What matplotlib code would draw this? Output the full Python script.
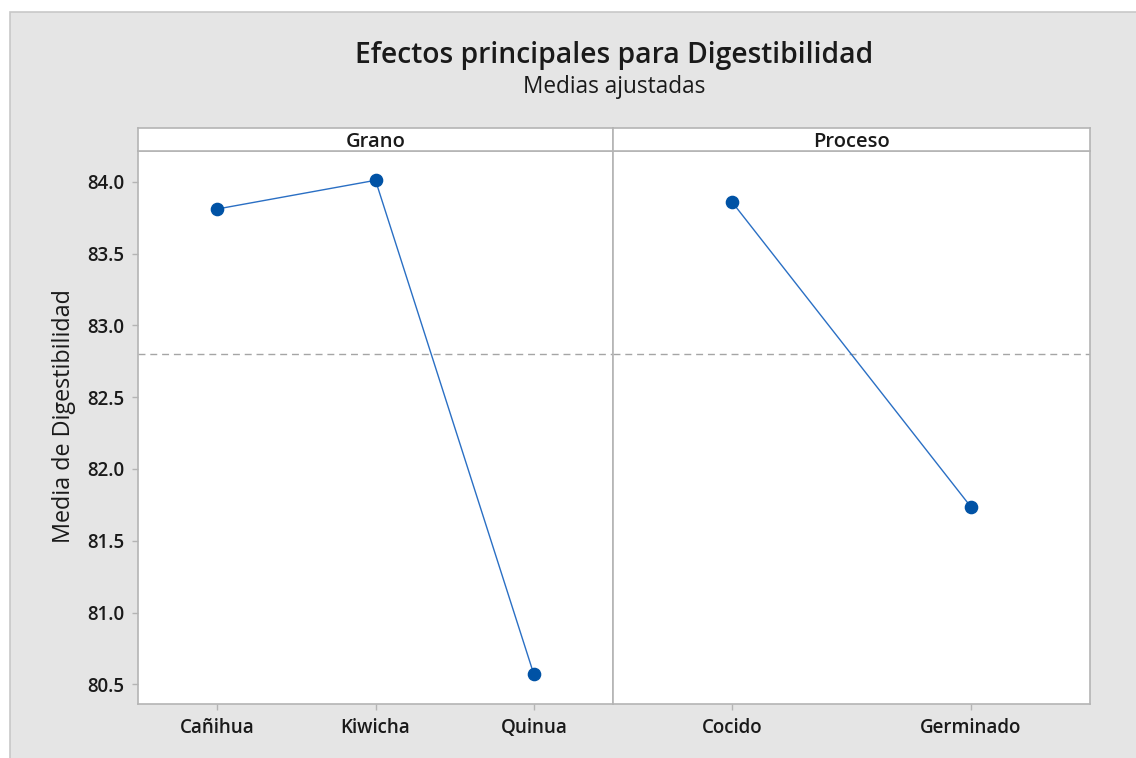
import matplotlib.pyplot as plt
from matplotlib.patches import Rectangle

# Data
grano_cats = ["Cañihua", "Kiwicha", "Quinua"]
grano_means = [83.81, 84.01, 80.57]
proceso_cats = ["Cocido", "Germinado"]
proceso_means = [83.857, 81.737]
grand_mean = 82.797
y_ticks = [80.5, 81.0, 81.5, 82.0, 82.5, 83.0, 83.5, 84.0]

title = "Efectos principales para Digestibilidad"
subtitle = "Medias ajustadas"
ylabel = "Media de Digestibilidad"

# Style
plt.rcParams['font.family'] = ['Open Sans', 'DejaVu Sans']
W, H = 1136, 758
line_col = "#2a6fc4"
dot_col = "#0052a5"
edge_col = "#b4b4b4"
bg_col = "#e5e5e5"
txt_col = "#1a1a1a"

fig = plt.figure(figsize=(W / 100, H / 100), dpi=100, facecolor="white")


def px_box(x0, y0, x1, y1):
    # pixel box (top-left origin) -> figure fraction
    return [x0 / W, 1 - y1 / H, (x1 - x0) / W, (y1 - y0) / H]


# Grey background panel (runs off the right and bottom edges)
fig.patches.append(Rectangle((10 / W, -0.05), 1.05, 1.05 - 12 / H, transform=fig.transFigure,
                             facecolor=bg_col, edgecolor="#c8c8c8", linewidth=1.2, zorder=-10))

fig.text(614 / W, 1 - 55 / H, title, ha="center", va="center", fontsize=20.3,
         fontweight="semibold", color=txt_col)
fig.text(614 / W, 1 - 87 / H, subtitle, ha="center", va="center", fontsize=16.3,
         fontweight="medium", color=txt_col)

panels = [
    ("Grano", grano_cats, grano_means, 138, 613),
    ("Proceso", proceso_cats, proceso_means, 613, 1090),
]

ylim = (80.363, 84.214)
for i, (name, cats, means, x0, x1) in enumerate(panels):
    ax = fig.add_axes(px_box(x0, 151, x1, 704))
    ax.set_facecolor("white")
    xs = list(range(len(cats)))
    ax.plot(xs, means, color=line_col, linewidth=1.0, zorder=2)
    ax.plot(xs, means, "o", color=dot_col, markersize=8.8, zorder=3)
    ax.axhline(grand_mean, color="#a5a5a5", linestyle=(0, (5, 3.5)), linewidth=1.0, zorder=1)
    ax.set_xlim(-0.5, len(cats) - 0.5)
    ax.set_ylim(*ylim)
    ax.set_xticks(xs)
    ax.set_xticklabels(cats, fontsize=13.5, fontweight="semibold", color=txt_col)
    ax.set_yticks(y_ticks)
    ax.tick_params(axis="both", direction="out", length=4, width=1, color=edge_col, pad=6)
    if i == 0:
        ax.set_yticklabels([f"{v:.1f}" for v in y_ticks], fontsize=13.5,
                           fontweight="semibold", color=txt_col)
        ax.set_ylabel(ylabel, fontsize=16.8, fontweight="medium", color=txt_col, labelpad=8)
        ax.yaxis.label.set_y(0.52)
    else:
        ax.tick_params(axis="y", left=False, labelleft=False)
    for s in ax.spines.values():
        s.set_color(edge_col)
        s.set_linewidth(1.2)

    # strip header
    sax = fig.add_axes(px_box(x0, 128, x1, 151))
    sax.set_facecolor("white")
    sax.set_xticks([])
    sax.set_yticks([])
    for s in sax.spines.values():
        s.set_color(edge_col)
        s.set_linewidth(1.2)
    sax.text(0.5, 0.38, name, transform=sax.transAxes, ha="center", va="center",
             fontsize=14.5, fontweight="semibold", color=txt_col)

fig.savefig("out.png", dpi=100, facecolor="white")
